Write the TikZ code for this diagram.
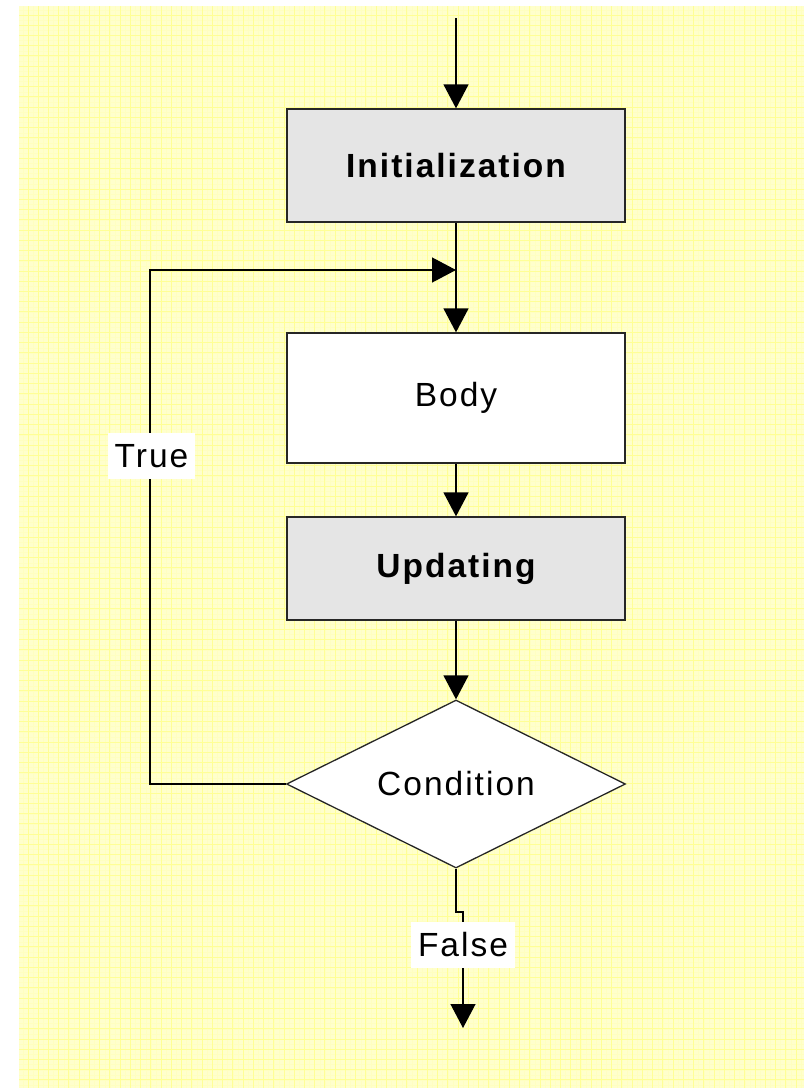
\documentclass[tikz,border=0pt]{standalone}
\usepackage{fontspec}
\setmainfont{Liberation Sans}[LetterSpace=6]
\usetikzlibrary{arrows.meta,shapes.geometric}

\definecolor{paper}{RGB}{255,255,204}
\definecolor{gridline}{RGB}{255,255,150}
\definecolor{finegrid}{RGB}{255,255,193}
\definecolor{boxgray}{RGB}{229,229,229}

\tikzset{
  flowline/.style={line width=1.3pt, draw=black},
  flowarrow/.style={flowline, -{Triangle[length=24pt,width=25pt]}},
  stepbox/.style={draw=black!85, line width=1.3pt, rectangle,
    minimum width=338pt, inner sep=0pt, font=\fontsize{33.5}{40}\selectfont},
  graybox/.style={stepbox, fill=boxgray, font=\fontsize{33.5}{40}\selectfont\bfseries},
  whitebox/.style={stepbox, fill=white},
  decision/.style={draw=black!85, line width=1.3pt, diamond, aspect=2.02, fill=white,
    minimum width=339pt, minimum height=168pt, inner sep=0pt,
    font=\fontsize{33.5}{40}\selectfont},
  edgelabel/.style={fill=white, inner xsep=7pt, inner ysep=0pt,
    minimum height=46pt, font=\fontsize{33.5}{40}\selectfont}
}

\begin{document}
\begin{tikzpicture}[x=1pt,y=-1pt]
  \useasboundingbox (0,0) rectangle (804,1088);

  % graph paper background
  \fill[paper] (19,6) rectangle (804,1088);
  \foreach \i in {0,...,152} {
    \draw[finegrid, line width=0.5pt] ({22.9+5.12*\i},6) -- ({22.9+5.12*\i},1088);
  }
  \foreach \i in {0,...,210} {
    \draw[finegrid, line width=0.5pt] (19,{9.9+5.12*\i}) -- (804,{9.9+5.12*\i});
  }
  \foreach \i in {0,...,76} {
    \draw[gridline, line width=1pt] ({28+10.24*\i},6) -- ({28+10.24*\i},1088);
  }
  \foreach \i in {0,...,105} {
    \draw[gridline, line width=1pt] (19,{15+10.24*\i}) -- (804,{15+10.24*\i});
  }

  % steps of the loop
  \node[graybox, minimum height=113pt] (init) at (456,165.5) {Initialization};
  \node[whitebox, minimum height=130pt] (body) at (456,398) {Body};
  \node[graybox, minimum height=103pt] (upd) at (456,568.5) {Updating};
  \node[decision] (cond) at (456,784) {Condition};

  % free ends and bends
  \coordinate (start) at (456,18);
  \coordinate (join) at (456,270);
  \coordinate (tl) at (150,270);
  \coordinate (bl) at (150,784);
  \coordinate (jog1) at (456,912);
  \coordinate (jog2) at (463,912);
  \coordinate (exit) at (463,1028);

  % connectors
  \draw[flowarrow] (start) -- (init.north);
  \draw[flowarrow] (init.south) -- (body.north);
  \draw[flowarrow] (body.south) -- (upd.north);
  \draw[flowarrow] (upd.south) -- (cond.north);
  \draw[flowarrow] (cond.west) -- (bl) -- (tl) -- (join);
  \draw[flowarrow] (cond.south) -- (jog1) -- (jog2) -- (exit);

  % branch labels
  \node[edgelabel] (truelbl) at (151.5,456) {True};
  \node[edgelabel] (falselbl) at (463,945) {False};
\end{tikzpicture}
\end{document}
